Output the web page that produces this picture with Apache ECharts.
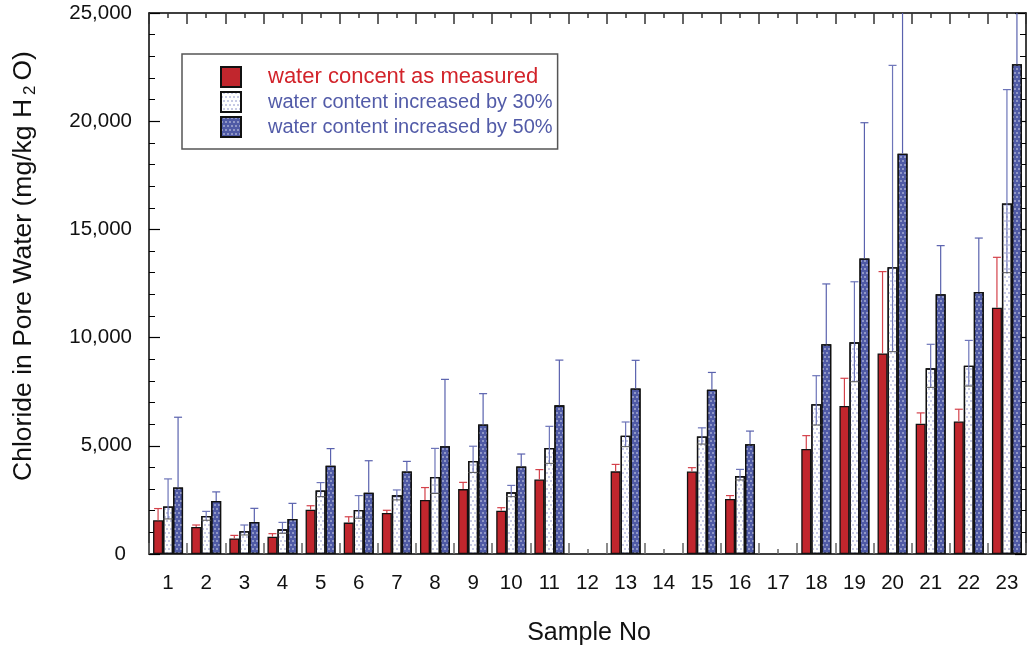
<!DOCTYPE html>
<html>
<head>
<meta charset="utf-8">
<script src="https://cdn.jsdelivr.net/npm/echarts@6/dist/echarts.min.js"></script>
<style>
  html, body { margin: 0; padding: 0; background: #fff; }
  #chart { width: 1029px; height: 647px; }
</style>
</head>
<body>
<div id="chart"></div>
<script>
// Sample numbers along the x axis
const samples = ['1','2','3','4','5','6','7','8','9','10','11','12','13','14','15','16','17','18','19','20','21','22','23'];

// Chloride (mg/kg H2O), water content as measured
const measured     = [1560, 1250, 720, 800, 2050, 1450, 1900, 2500, 3000, 2000, 3440, null, 3820, null, 3810, 2540, null, 4850, 6840, 9270, 6020, 6120, 11380];
const measuredHigh = [2100, 1340, 860, 940, 2230, 1720, 2020, 3070, 3310, 2140, 3900, null, 4140, null, 3990, 2700, null, 5470, 8120, 13050, 6520, 6690, 13710];

// Water content increased by 30%
const plus30     = [2200, 1760, 1050, 1140, 2940, 2030, 2710, 3560, 4300, 2850, 4900, null, 5470, null, 5430, 3600, null, 6920, 9780, 13250, 8580, 8700, 16200];
const plus30High = [3470, 1970, 1340, 1460, 3300, 2700, 2960, 4880, 4980, 3170, 5900, null, 6100, null, 5830, 3910, null, 8240, 12580, 22580, 9690, 9870, 21460];
const plus30Low  = [1620, 1560, 880, 960, 2650, 1650, 2500, 2800, 3770, 2650, 4190, null, 4960, null, 5080, 3420, null, 5960, 7960, 9350, 7700, 7760, 13000];

// Water content increased by 50%
const plus50     = [3070, 2450, 1480, 1620, 4080, 2830, 3810, 4980, 5990, 4040, 6870, null, 7650, null, 7590, 5070, null, 9690, 13660, 18500, 12000, 12110, 22630];
const plus50High = [6320, 2870, 2110, 2340, 4870, 4310, 4280, 8070, 7410, 4620, 8960, null, 8950, null, 8390, 5680, null, 12480, 19930, 26500, 14250, 14600, 26500];

const seriesNames = ['water concent as measured', 'water content increased by 30%', 'water content increased by 50%'];

const RED = '#C1262D';
const BLUE = '#4F5AA5';
const BAR_W = 10;
const FONT = '"Liberation Sans", Arial, Helvetica, sans-serif';

const chart = echarts.init(document.getElementById('chart'), null, { renderer: 'canvas' });

// Error bar drawer: vertical whisker from low (or the bar top) up to high, with a cap.
function errorSeries(values, highs, lows, slot, color) {
  const data = [];
  values.forEach((v, i) => {
    if (v == null) return;
    data.push([i, v, highs[i], lows ? lows[i] : v]);
  });
  return {
    type: 'custom',
    xAxisIndex: 0,
    yAxisIndex: 0,
    z: 5,
    silent: true,
    clip: true,
    encode: { x: 0, y: [1, 2, 3] },
    data: data,
    renderItem: function (params, api) {
      const idx = api.value(0);
      const top = api.coord([idx, api.value(2)]);
      const bot = api.coord([idx, api.value(3)]);
      const x = top[0] + slot * BAR_W;
      const cs = params.coordSys;
      const yTop = Math.max(top[1], cs.y);
      const children = [{
        type: 'line',
        shape: { x1: x, y1: bot[1], x2: x, y2: yTop },
        style: { stroke: color, lineWidth: 1.2 }
      }];
      if (top[1] >= cs.y) {
        children.push({
          type: 'line',
          shape: { x1: x - 4, y1: top[1], x2: x + 4, y2: top[1] },
          style: { stroke: color, lineWidth: 1.2 }
        });
      }
      if (lows) {
        children.push({
          type: 'line',
          shape: { x1: x - BAR_W / 2, y1: bot[1], x2: x + BAR_W / 2, y2: bot[1] },
          style: { stroke: '#555', lineWidth: 1 }
        });
      }
      return { type: 'group', children: children };
    }
  };
}

const dotGrid = {
  dashArrayX: [[2, 2], [0, 2, 2, 0]],
  dashArrayY: [2, 1.6],
  symbol: 'circle',
  symbolSize: 0.8
};

const xBase = {
  type: 'category',
  data: samples,
  gridIndex: 0
};

const option = {
  animation: false,
  backgroundColor: '#fff',
  textStyle: { fontFamily: FONT },
  grid: { left: 149, right: 3, top: 13, bottom: 93, containLabel: false },
  legend: {
    orient: 'vertical',
    left: 182,
    top: 54,
    padding: [12, 5, 11, 38],
    itemGap: 3,
    itemWidth: 20,
    itemHeight: 20,
    borderColor: '#555',
    borderWidth: 1.5,
    icon: 'rect',
    selectedMode: false,
    textStyle: { fontSize: 20, fontFamily: FONT, padding: [0, 0, 0, 22] },
    data: [
      { name: seriesNames[0], textStyle: { color: '#D2232A', fontSize: 22 } },
      { name: seriesNames[1], textStyle: { color: '#525BA8', fontSize: 20 } },
      { name: seriesNames[2], textStyle: { color: '#525BA8', fontSize: 20 } }
    ]
  },
  xAxis: [
    Object.assign({}, xBase, {
      position: 'bottom',
      axisLine: { show: true, lineStyle: { color: '#000', width: 1.5 } },
      axisTick: { show: true, inside: true, length: 11, lineStyle: { color: '#666', width: 1.5 } },
      axisLabel: { show: true, color: '#111', fontSize: 20.5, fontFamily: FONT, margin: 19 }
    }),
    Object.assign({}, xBase, {
      position: 'bottom',
      axisLine: { show: false },
      axisTick: { show: true, inside: true, alignWithLabel: true, length: 5, lineStyle: { color: '#666', width: 1.5 } },
      axisLabel: { show: false }
    }),
    Object.assign({}, xBase, {
      position: 'top',
      axisLine: { show: true, lineStyle: { color: '#000', width: 1.5 } },
      axisTick: { show: true, inside: true, length: 11, lineStyle: { color: '#333', width: 1.5 } },
      axisLabel: { show: false }
    }),
    Object.assign({}, xBase, {
      position: 'top',
      axisLine: { show: false },
      axisTick: { show: true, inside: true, alignWithLabel: true, length: 5, lineStyle: { color: '#333', width: 1.5 } },
      axisLabel: { show: false }
    })
  ],
  yAxis: [
    {
      type: 'value',
      position: 'left',
      min: 0,
      max: 25000,
      interval: 5000,
      splitLine: { show: false },
      axisLine: { show: true, lineStyle: { color: '#000', width: 1.5 } },
      axisTick: { show: true, inside: true, length: 11, lineStyle: { color: '#000', width: 1.2 } },
      minorTick: { show: true, splitNumber: 5, length: 6, lineStyle: { color: '#000', width: 1 } },
      axisLabel: {
        color: '#111',
        fontSize: 20.5,
        fontFamily: FONT,
        margin: 17,
        formatter: function (v) {
          return v === 0 ? '{z|0}' : v.toLocaleString('en-US');
        },
        rich: { z: { fontSize: 20.5, fontFamily: FONT, color: '#111', padding: [0, 6, 0, 0] } }
      }
    },
    {
      type: 'value',
      position: 'right',
      min: 0,
      max: 25000,
      interval: 5000,
      splitLine: { show: false },
      axisLine: { show: true, lineStyle: { color: '#000', width: 1.5 } },
      axisTick: { show: true, inside: true, length: 11, lineStyle: { color: '#000', width: 1.2 } },
      minorTick: { show: true, splitNumber: 5, length: 6, lineStyle: { color: '#000', width: 1 } },
      axisLabel: { show: false }
    }
  ],
  series: [
    {
      name: seriesNames[0],
      type: 'bar',
      barWidth: BAR_W,
      barGap: '0%',
      z: 3,
      data: measured,
      itemStyle: { color: RED, borderColor: '#111', borderWidth: 1.3 }
    },
    {
      name: seriesNames[1],
      type: 'bar',
      barWidth: BAR_W,
      barGap: '0%',
      z: 3,
      data: plus30,
      itemStyle: {
        color: '#ffffff',
        borderColor: '#111',
        borderWidth: 1.3,
        decal: Object.assign({ color: '#7F86C2' }, dotGrid)
      }
    },
    {
      name: seriesNames[2],
      type: 'bar',
      barWidth: BAR_W,
      barGap: '0%',
      z: 3,
      data: plus50,
      itemStyle: {
        color: BLUE,
        borderColor: '#111',
        borderWidth: 1.3,
        decal: Object.assign({ color: 'rgba(255,255,255,0.85)' }, dotGrid)
      }
    },
    errorSeries(measured, measuredHigh, null, -1, '#D4414A'),
    errorSeries(plus30, plus30High, plus30Low, 0, '#6D75B9'),
    errorSeries(plus50, plus50High, null, 1, '#5A62AE')
  ],
  graphic: [
    {
      type: 'text',
      style: {
        x: 589,
        y: 633,
        text: 'Sample No',
        align: 'center',
        verticalAlign: 'middle',
        fontSize: 25,
        fontFamily: FONT,
        fill: '#111'
      }
    },
    {
      type: 'text',
      x: 24,
      y: 266,
      rotation: Math.PI / 2,
      style: {
        text: '{a|Chloride in Pore Water (mg/kg H}{s|2}{a|O)}',
        align: 'center',
        verticalAlign: 'middle',
        fill: '#111',
        rich: {
          a: { fontSize: 26.5, fontFamily: FONT, fill: '#111', lineHeight: 30, verticalAlign: 'middle' },
          s: { fontSize: 17, fontFamily: FONT, fill: '#111', lineHeight: 17, padding: [21, 5, 0, 4], verticalAlign: 'bottom' }
        }
      }
    }
  ]
};

chart.setOption(option);
</script>
</body>
</html>
